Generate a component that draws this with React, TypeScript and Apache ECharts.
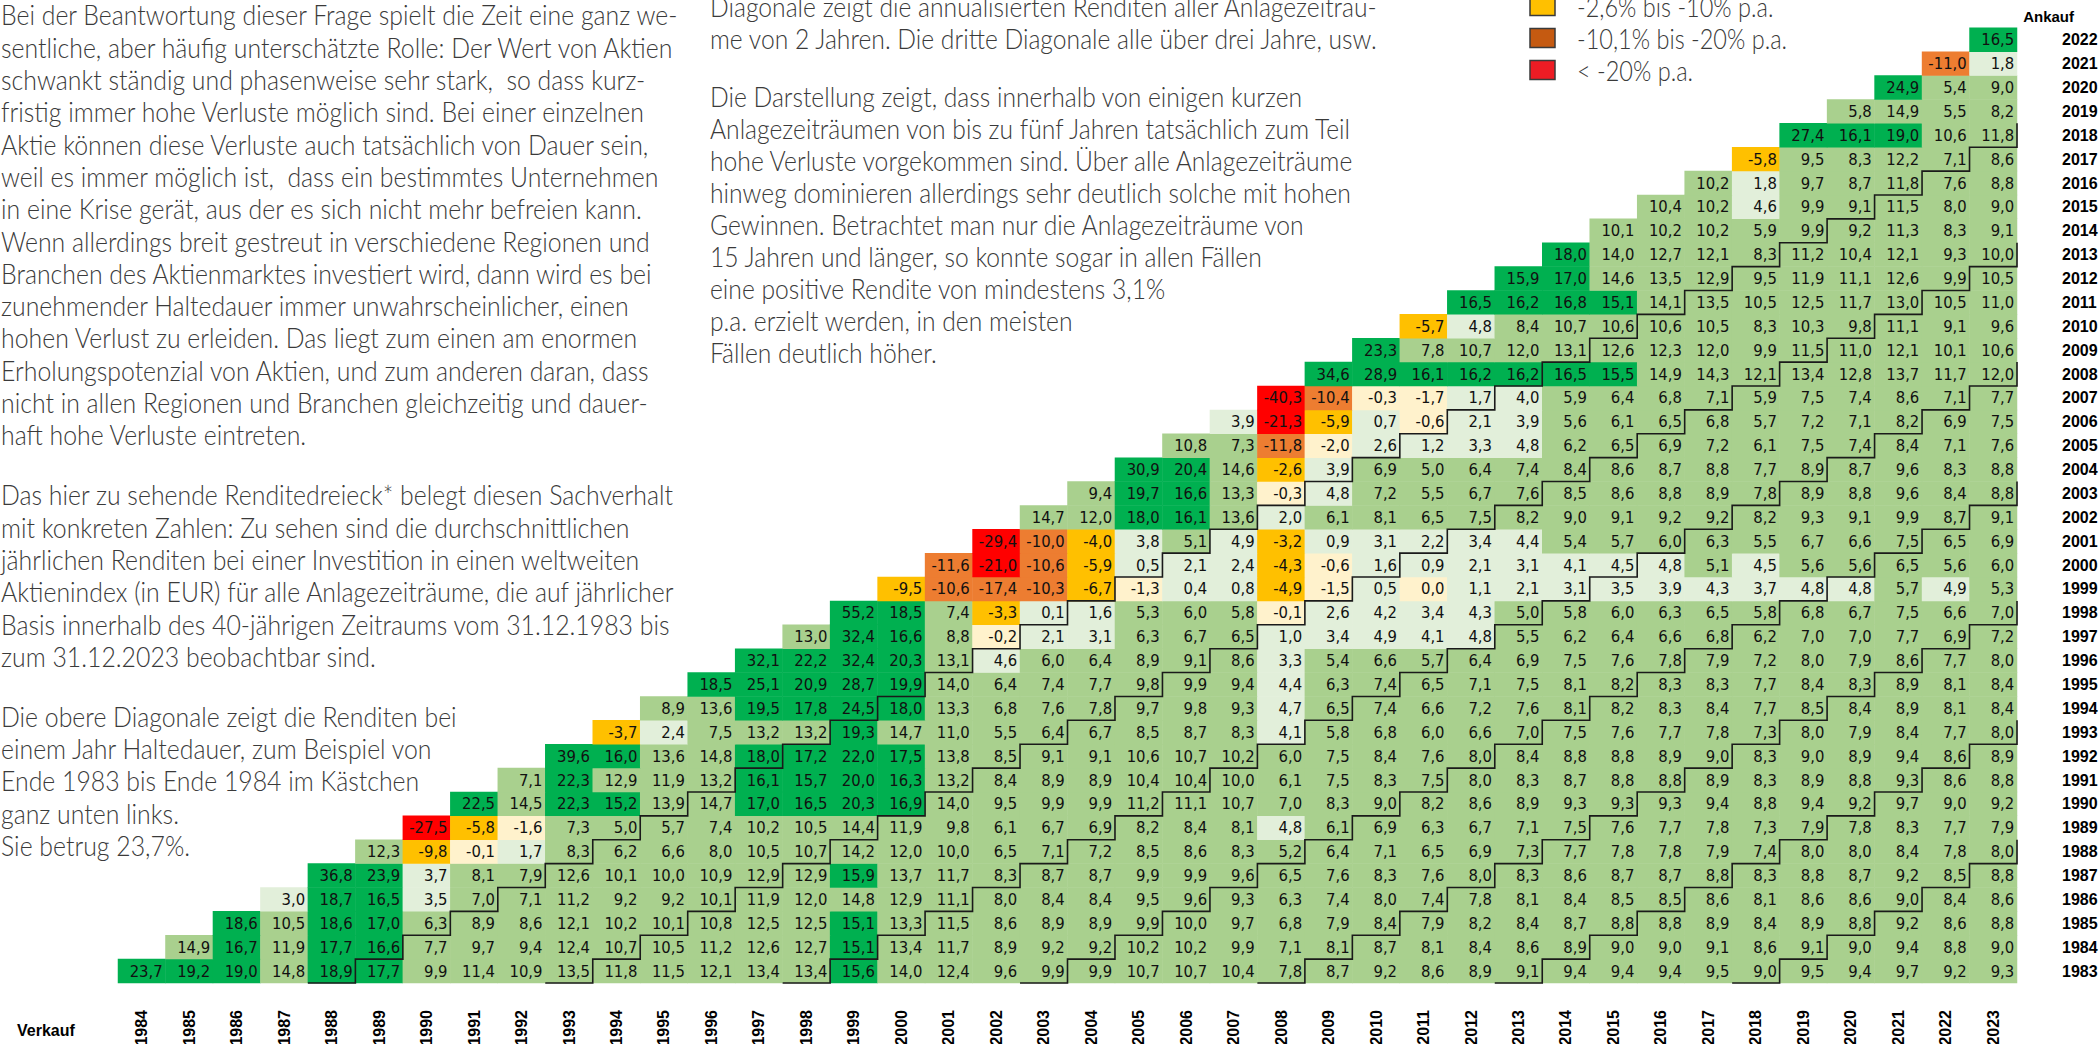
import React, { useEffect, useRef } from "react";
import * as echarts from "echarts";

// ---------- tick labels ----------
const sellYears = ["1984","1985","1986","1987","1988","1989","1990","1991","1992","1993","1994","1995","1996","1997","1998","1999","2000","2001","2002","2003","2004","2005","2006","2007","2008","2009","2010","2011","2012","2013","2014","2015","2016","2017","2018","2019","2020","2021","2022","2023"];
const buyYears = ["1983","1984","1985","1986","1987","1988","1989","1990","1991","1992","1993","1994","1995","1996","1997","1998","1999","2000","2001","2002","2003","2004","2005","2006","2007","2008","2009","2010","2011","2012","2013","2014","2015","2016","2017","2018","2019","2020","2021","2022"];

// ---------- annualised returns per buy year (sell years buy+1 .. 2023) ----------
const r1983 = [23.7,19.2,19.0,14.8,18.9,17.7,9.9,11.4,10.9,13.5,11.8,11.5,12.1,13.4,13.4,15.6,14.0,12.4,9.6,9.9,9.9,10.7,10.7,10.4,7.8,8.7,9.2,8.6,8.9,9.1,9.4,9.4,9.4,9.5,9.0,9.5,9.4,9.7,9.2,9.3];
const r1984 = [14.9,16.7,11.9,17.7,16.6,7.7,9.7,9.4,12.4,10.7,10.5,11.2,12.6,12.7,15.1,13.4,11.7,8.9,9.2,9.2,10.2,10.2,9.9,7.1,8.1,8.7,8.1,8.4,8.6,8.9,9.0,9.0,9.1,8.6,9.1,9.0,9.4,8.8,9.0];
const r1985 = [18.6,10.5,18.6,17.0,6.3,8.9,8.6,12.1,10.2,10.1,10.8,12.5,12.5,15.1,13.3,11.5,8.6,8.9,8.9,9.9,10.0,9.7,6.8,7.9,8.4,7.9,8.2,8.4,8.7,8.8,8.8,8.9,8.4,8.9,8.8,9.2,8.6,8.8];
const r1986 = [3.0,18.7,16.5,3.5,7.0,7.1,11.2,9.2,9.2,10.1,11.9,12.0,14.8,12.9,11.1,8.0,8.4,8.4,9.5,9.6,9.3,6.3,7.4,8.0,7.4,7.8,8.1,8.4,8.5,8.5,8.6,8.1,8.6,8.6,9.0,8.4,8.6];
const r1987 = [36.8,23.9,3.7,8.1,7.9,12.6,10.1,10.0,10.9,12.9,12.9,15.9,13.7,11.7,8.3,8.7,8.7,9.9,9.9,9.6,6.5,7.6,8.3,7.6,8.0,8.3,8.6,8.7,8.7,8.8,8.3,8.8,8.7,9.2,8.5,8.8];
const r1988 = [12.3,-9.8,-0.1,1.7,8.3,6.2,6.6,8.0,10.5,10.7,14.2,12.0,10.0,6.5,7.1,7.2,8.5,8.6,8.3,5.2,6.4,7.1,6.5,6.9,7.3,7.7,7.8,7.8,7.9,7.4,8.0,8.0,8.4,7.8,8.0];
const r1989 = [-27.5,-5.8,-1.6,7.3,5.0,5.7,7.4,10.2,10.5,14.4,11.9,9.8,6.1,6.7,6.9,8.2,8.4,8.1,4.8,6.1,6.9,6.3,6.7,7.1,7.5,7.6,7.7,7.8,7.3,7.9,7.8,8.3,7.7,7.9];
const r1990 = [22.5,14.5,22.3,15.2,13.9,14.7,17.0,16.5,20.3,16.9,14.0,9.5,9.9,9.9,11.2,11.1,10.7,7.0,8.3,9.0,8.2,8.6,8.9,9.3,9.3,9.3,9.4,8.8,9.4,9.2,9.7,9.0,9.2];
const r1991 = [7.1,22.3,12.9,11.9,13.2,16.1,15.7,20.0,16.3,13.2,8.4,8.9,8.9,10.4,10.4,10.0,6.1,7.5,8.3,7.5,8.0,8.3,8.7,8.8,8.8,8.9,8.3,8.9,8.8,9.3,8.6,8.8];
const r1992 = [39.6,16.0,13.6,14.8,18.0,17.2,22.0,17.5,13.8,8.5,9.1,9.1,10.6,10.7,10.2,6.0,7.5,8.4,7.6,8.0,8.4,8.8,8.8,8.9,9.0,8.3,9.0,8.9,9.4,8.6,8.9];
const r1993 = [-3.7,2.4,7.5,13.2,13.2,19.3,14.7,11.0,5.5,6.4,6.7,8.5,8.7,8.3,4.1,5.8,6.8,6.0,6.6,7.0,7.5,7.6,7.7,7.8,7.3,8.0,7.9,8.4,7.7,8.0];
const r1994 = [8.9,13.6,19.5,17.8,24.5,18.0,13.3,6.8,7.6,7.8,9.7,9.8,9.3,4.7,6.5,7.4,6.6,7.2,7.6,8.1,8.2,8.3,8.4,7.7,8.5,8.4,8.9,8.1,8.4];
const r1995 = [18.5,25.1,20.9,28.7,19.9,14.0,6.4,7.4,7.7,9.8,9.9,9.4,4.4,6.3,7.4,6.5,7.1,7.5,8.1,8.2,8.3,8.3,7.7,8.4,8.3,8.9,8.1,8.4];
const r1996 = [32.1,22.2,32.4,20.3,13.1,4.6,6.0,6.4,8.9,9.1,8.6,3.3,5.4,6.6,5.7,6.4,6.9,7.5,7.6,7.8,7.9,7.2,8.0,7.9,8.6,7.7,8.0];
const r1997 = [13.0,32.4,16.6,8.8,-0.2,2.1,3.1,6.3,6.7,6.5,1.0,3.4,4.9,4.1,4.8,5.5,6.2,6.4,6.6,6.8,6.2,7.0,7.0,7.7,6.9,7.2];
const r1998 = [55.2,18.5,7.4,-3.3,0.1,1.6,5.3,6.0,5.8,-0.1,2.6,4.2,3.4,4.3,5.0,5.8,6.0,6.3,6.5,5.8,6.8,6.7,7.5,6.6,7.0];
const r1999 = [-9.5,-10.6,-17.4,-10.3,-6.7,-1.3,0.4,0.8,-4.9,-1.5,0.5,0.0,1.1,2.1,3.1,3.5,3.9,4.3,3.7,4.8,4.8,5.7,4.9,5.3];
const r2000 = [-11.6,-21.0,-10.6,-5.9,0.5,2.1,2.4,-4.3,-0.6,1.6,0.9,2.1,3.1,4.1,4.5,4.8,5.1,4.5,5.6,5.6,6.5,5.6,6.0];
const r2001 = [-29.4,-10.0,-4.0,3.8,5.1,4.9,-3.2,0.9,3.1,2.2,3.4,4.4,5.4,5.7,6.0,6.3,5.5,6.7,6.6,7.5,6.5,6.9];
const r2002 = [14.7,12.0,18.0,16.1,13.6,2.0,6.1,8.1,6.5,7.5,8.2,9.0,9.1,9.2,9.2,8.2,9.3,9.1,9.9,8.7,9.1];
const r2003 = [9.4,19.7,16.6,13.3,-0.3,4.8,7.2,5.5,6.7,7.6,8.5,8.6,8.8,8.9,7.8,8.9,8.8,9.6,8.4,8.8];
const r2004 = [30.9,20.4,14.6,-2.6,3.9,6.9,5.0,6.4,7.4,8.4,8.6,8.7,8.8,7.7,8.9,8.7,9.6,8.3,8.8];
const r2005 = [10.8,7.3,-11.8,-2.0,2.6,1.2,3.3,4.8,6.2,6.5,6.9,7.2,6.1,7.5,7.4,8.4,7.1,7.6];
const r2006 = [3.9,-21.3,-5.9,0.7,-0.6,2.1,3.9,5.6,6.1,6.5,6.8,5.7,7.2,7.1,8.2,6.9,7.5];
const r2007 = [-40.3,-10.4,-0.3,-1.7,1.7,4.0,5.9,6.4,6.8,7.1,5.9,7.5,7.4,8.6,7.1,7.7];
const r2008 = [34.6,28.9,16.1,16.2,16.2,16.5,15.5,14.9,14.3,12.1,13.4,12.8,13.7,11.7,12.0];
const r2009 = [23.3,7.8,10.7,12.0,13.1,12.6,12.3,12.0,9.9,11.5,11.0,12.1,10.1,10.6];
const r2010 = [-5.7,4.8,8.4,10.7,10.6,10.6,10.5,8.3,10.3,9.8,11.1,9.1,9.6];
const r2011 = [16.5,16.2,16.8,15.1,14.1,13.5,10.5,12.5,11.7,13.0,10.5,11.0];
const r2012 = [15.9,17.0,14.6,13.5,12.9,9.5,11.9,11.1,12.6,9.9,10.5];
const r2013 = [18.0,14.0,12.7,12.1,8.3,11.2,10.4,12.1,9.3,10.0];
const r2014 = [10.1,10.2,10.2,5.9,9.9,9.2,11.3,8.3,9.1];
const r2015 = [10.4,10.2,4.6,9.9,9.1,11.5,8.0,9.0];
const r2016 = [10.2,1.8,9.7,8.7,11.8,7.6,8.8];
const r2017 = [-5.8,9.5,8.3,12.2,7.1,8.6];
const r2018 = [27.4,16.1,19.0,10.6,11.8];
const r2019 = [5.8,14.9,5.5,8.2];
const r2020 = [24.9,5.4,9.0];
const r2021 = [-11.0,1.8];
const r2022 = [16.5];

const returnRows = [r1983,r1984,r1985,r1986,r1987,r1988,r1989,r1990,r1991,r1992,r1993,r1994,r1995,r1996,r1997,r1998,r1999,r2000,r2001,r2002,r2003,r2004,r2005,r2006,r2007,r2008,r2009,r2010,r2011,r2012,r2013,r2014,r2015,r2016,r2017,r2018,r2019,r2020,r2021,r2022];

// holding periods (years) after which a staircase line is drawn
const holdingStairs = [5, 10, 15, 20, 25, 30, 35];

// colour classes
const colorPieces = [
  { gte: 14.95, color: "#00B050" },
  { gte: 4.95, lt: 14.95, color: "#A9D08E" },
  { gt: 0.05, lt: 4.95, color: "#E2EFDA" },
  { gt: -2.55, lte: 0.05, color: "#FFF2CC" },
  { gt: -9.95, lte: -2.55, color: "#FFC000" },
  { gte: -20, lte: -9.95, color: "#ED7D31" },
  { lt: -20, color: "#FF0000" },
];

// ---------- texts ----------
const introParagraphs = [
  [
    "Bei der Beantwortung dieser Frage spielt die Zeit eine ganz we-",
    "sentliche, aber häufig unterschätzte Rolle: Der Wert von Aktien",
    "schwankt ständig und phasenweise sehr stark,  so dass kurz-",
    "fristig immer hohe Verluste möglich sind. Bei einer einzelnen",
    "Aktie können diese Verluste auch tatsächlich von Dauer sein,",
    "weil es immer möglich ist,  dass ein bestimmtes Unternehmen",
    "in eine Krise gerät, aus der es sich nicht mehr befreien kann.",
    "Wenn allerdings breit gestreut in verschiedene Regionen und",
    "Branchen des Aktienmarktes investiert wird, dann wird es bei",
    "zunehmender Haltedauer immer unwahrscheinlicher, einen",
    "hohen Verlust zu erleiden. Das liegt zum einen am enormen",
    "Erholungspotenzial von Aktien, und zum anderen daran, dass",
    "nicht in allen Regionen und Branchen gleichzeitig und dauer-",
    "haft hohe Verluste eintreten.",
  ],
  [
    "Das hier zu sehende Renditedreieck* belegt diesen Sachverhalt",
    "mit konkreten Zahlen: Zu sehen sind die durchschnittlichen",
    "jährlichen Renditen bei einer Investition in einen weltweiten",
    "Aktienindex (in EUR) für alle Anlagezeiträume, die auf jährlicher",
    "Basis innerhalb des 40-jährigen Zeitraums vom 31.12.1983 bis",
    "zum 31.12.2023 beobachtbar sind.",
  ],
  [
    "Die obere Diagonale zeigt die Renditen bei",
    "einem Jahr Haltedauer, zum Beispiel von",
    "Ende 1983 bis Ende 1984 im Kästchen",
    "ganz unten links.",
    "Sie betrug 23,7%.",
  ],
];

const explainParagraphs = [
  [
    "Diagonale zeigt die annualisierten Renditen aller Anlagezeiträu-",
    "me von 2 Jahren. Die dritte Diagonale alle über drei Jahre, usw.",
  ],
  [
    "Die Darstellung zeigt, dass innerhalb von einigen kurzen",
    "Anlagezeiträumen von bis zu fünf Jahren tatsächlich zum Teil",
    "hohe Verluste vorgekommen sind. Über alle Anlagezeiträume",
    "hinweg dominieren allerdings sehr deutlich solche mit hohen",
    "Gewinnen. Betrachtet man nur die Anlagezeiträume von",
    "15 Jahren und länger, so konnte sogar in allen Fällen",
    "eine positive Rendite von mindestens 3,1%",
    "p.a. erzielt werden, in den meisten",
    "Fällen deutlich höher.",
  ],
];

const legendLabels = ["-2,6% bis -10% p.a.", "-10,1% bis -20% p.a.", "< -20% p.a."];
const legendColors = ["#FFC000", "#C55A11", "#ED1C24"];

const BODY_FONT = "Lato, 'Open Sans', sans-serif";
const CELL_FONT = "'Liberation Sans Narrow', 'DejaVu Sans Condensed', 'Liberation Sans', sans-serif";
const LABEL_FONT = "'Liberation Sans', Arial, sans-serif";

function measure(text: string, size: number, weight: number | string, family: string) {
  const ctx = document.createElement("canvas").getContext("2d");
  if (!ctx) return text.length * size * 0.5;
  ctx.font = `${weight} ${size}px ${family}`;
  return ctx.measureText(text).width;
}

function buildTextBlock(
  paragraphs: string[][],
  x: number,
  y0: number,
  lineGap: number,
  paraGap: number,
  size: number,
  targetWidth: number,
  refLine: string
) {
  const sx = targetWidth / measure(refLine, size, 300, BODY_FONT);
  const els: any[] = [];
  let y = y0;
  paragraphs.forEach((para, pi) => {
    if (pi > 0) y += paraGap - lineGap;
    para.forEach((line) => {
      els.push({
        type: "text",
        x,
        y,
        scaleX: sx,
        silent: true,
        style: {
          text: line,
          x: 0,
          y: 0,
          fontFamily: BODY_FONT,
          fontWeight: 300,
          fontSize: size,
          fill: "#3a3a3a",
          align: "left",
          verticalAlign: "middle",
        },
      });
      y += lineGap;
    });
  });
  return els;
}

export default function App() {
  const ref = useRef<HTMLDivElement>(null);

  useEffect(() => {
    document.body.style.margin = "0";
    if (!ref.current) return;
    const chart = echarts.init(ref.current, undefined, { renderer: "svg" });

    const heatData: any[] = [];
    returnRows.forEach((row, i) => {
      row.forEach((v, j) => {
        heatData.push([i + j, i, v]);
      });
    });

    const graphics: any[] = [];
    graphics.push(
      ...buildTextBlock(
        introParagraphs, 1, 15, 32.3, 60, 27, 678,
        introParagraphs[0][0]
      )
    );
    graphics.push(
      ...buildTextBlock(
        explainParagraphs, 710, 6.5, 32, 58.4, 27, 668,
        explainParagraphs[0][0]
      )
    );
    // legend (upper entries are cut off by the page edge)
    const legScale = 210 / measure(legendLabels[1], 28, 300, BODY_FONT);
    legendLabels.forEach((lab, k) => {
      const cy = 6 + k * 32;
      graphics.push({
        type: "rect",
        silent: true,
        shape: { x: 1530, y: cy - 9.5, width: 25, height: 19 },
        style: { fill: legendColors[k], stroke: "#3a3a3a", lineWidth: 1.5 },
      });
      graphics.push({
        type: "text",
        x: 1577,
        y: cy,
        scaleX: legScale,
        silent: true,
        style: {
          text: lab,
          x: 0,
          y: 0,
          fontFamily: BODY_FONT,
          fontWeight: 300,
          fontSize: 28,
          fill: "#3a3a3a",
          align: "left",
          verticalAlign: "middle",
        },
      });
    });
    graphics.push({
      type: "text",
      x: 2074,
      y: 16,
      silent: true,
      style: {
        text: "Ankauf",
        fontFamily: LABEL_FONT,
        fontWeight: "bold",
        fontSize: 15,
        fill: "#000",
        align: "right",
        verticalAlign: "middle",
      },
    });
    graphics.push({
      type: "text",
      x: 17,
      y: 1030,
      silent: true,
      style: {
        text: "Verkauf",
        fontFamily: LABEL_FONT,
        fontWeight: "bold",
        fontSize: 16,
        fill: "#000",
        align: "left",
        verticalAlign: "middle",
      },
    });

    const option: any = {
      animation: false,
      backgroundColor: "#ffffff",
      grid: {
        left: 118,
        right: 83,
        top: 27.8,
        bottom: 61,
        containLabel: false,
        outerBoundsMode: "none",
      },
      xAxis: {
        type: "category",
        data: sellYears,
        position: "bottom",
        axisLine: { show: false },
        axisTick: { show: false },
        splitLine: { show: false },
        axisLabel: {
          interval: 0,
          rotate: 90,
          margin: 27,
          fontFamily: LABEL_FONT,
          fontWeight: "bold",
          fontSize: 16,
          color: "#000",
        },
      },
      yAxis: {
        type: "category",
        data: buyYears,
        position: "right",
        axisLine: { show: false },
        axisTick: { show: false },
        splitLine: { show: false },
        axisLabel: {
          interval: 0,
          margin: 45,
          fontFamily: LABEL_FONT,
          fontWeight: "bold",
          fontSize: 16,
          color: "#000",
        },
      },
      visualMap: {
        type: "piecewise",
        show: false,
        dimension: 2,
        seriesIndex: 0,
        pieces: colorPieces,
      },
      graphic: graphics,
      series: [
        {
          type: "heatmap",
          data: heatData,
          progressive: 0,
          emphasis: { disabled: true },
          itemStyle: { borderWidth: 0 },
          label: {
            show: true,
            position: "insideRight",
            distance: 3,
            fontFamily: CELL_FONT,
            fontSize: 16.5,
            color: "#111",
            formatter: (p: any) => p.value[2].toFixed(1).replace(".", ","),
          },
        },
        {
          type: "custom",
          coordinateSystem: "cartesian2d",
          clip: false,
          silent: true,
          z: 5,
          data: holdingStairs.map((k) => [k, 0]),
          renderItem: (params: any, api: any) => {
            const k = api.value(0);
            const pts: number[][] = [];
            for (let i = 0; i + k - 1 <= 39; i++) {
              const xi = i + k - 1;
              const c = api.coord([xi, i]);
              const s = api.size([1, 1]);
              const l = c[0] - s[0] / 2;
              const r = c[0] + s[0] / 2;
              const t = c[1] - s[1] / 2;
              const b = c[1] + s[1] / 2;
              pts.push([l, b], [r, b], [r, t]);
            }
            return {
              type: "polyline",
              shape: { points: pts },
              style: { stroke: "#1a1a1a", lineWidth: 1.6, fill: null },
            };
          },
        },
      ],
    };

    chart.setOption(option);
    return () => chart.dispose();
  }, []);

  return <div ref={ref} style={{ width: 2100, height: 1044 }} />;
}
